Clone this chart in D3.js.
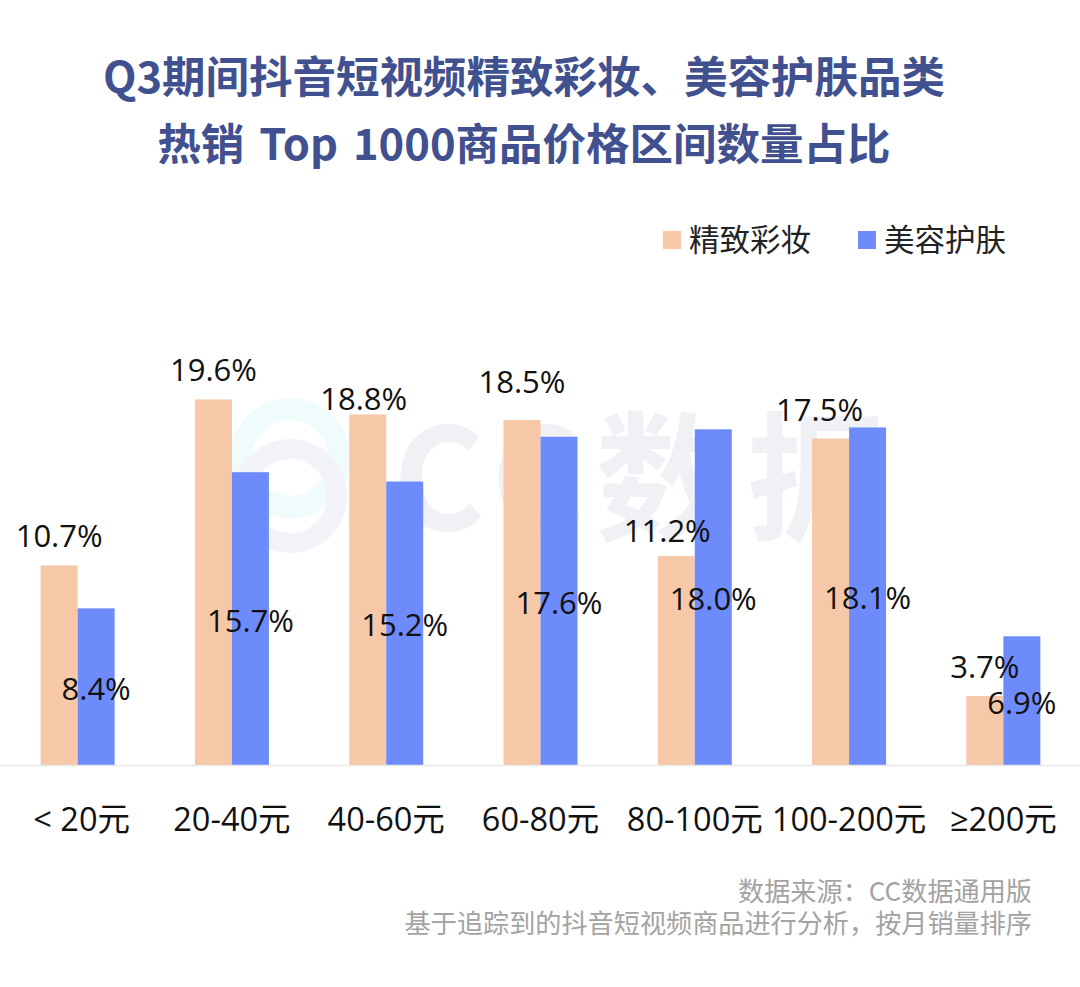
<!DOCTYPE html>
<html>
<head>
<meta charset="utf-8">
<script src="https://cdn.jsdelivr.net/npm/d3@7"></script>
<style>
  html, body { margin: 0; background: #fff; }
  svg { display: block; }
  text { font-family: "Open Sans", "Noto Sans CJK SC", sans-serif; }
  .cjk { font-family: "Noto Sans CJK SC", sans-serif; }
</style>
</head>
<body>
<div id="chart"></div>
<script>
const categories = ['< 20元', '20-40元', '40-60元', '60-80元', '80-100元', '100-200元', '≥200元'];
const seriesNames = ['精致彩妆', '美容护肤'];
const makeupValues = [10.7, 19.6, 18.8, 18.5, 11.2, 17.5, 3.7];
const skincareValues = [8.4, 15.7, 15.2, 17.6, 18.0, 18.1, 6.9];
const titleLines = ['Q3期间抖音短视频精致彩妆、美容护肤品类', '热销 Top 1000商品价格区间数量占比'];
const sourceLines = ['数据来源：CC数据通用版', '基于追踪到的抖音短视频商品进行分析，按月销量排序'];

const WIDTH = 1080;
const HEIGHT = 987;
const BASELINE = 765;
const BAR_W = 37;
const COLORS = ['#f6c8a8', '#6d8bfb'];
const LABEL_SIZE = 31;

// Hand placed makeup labels in the original, offset from the bar's top centre.
const makeupNudge = [[0, 0], [0, 0], [-4, 14], [0, -9], [-9, 4], [-11, 0], [0, 0]];

let svg = d3.select('#chart')
  .append('svg')
  .attr('width', WIDTH)
  .attr('height', HEIGHT);

// Watermark behind the bars.
let mark = svg.append('g').attr('class', 'watermark');
[[290, 458, 49, '#f0fbfb', 22], [290, 496, 47, '#f2f4f9', 20]].forEach(function (c) {
  mark.append('circle')
    .attr('cx', c[0]).attr('cy', c[1]).attr('r', c[2])
    .attr('fill', 'none').attr('stroke', c[3]).attr('stroke-width', c[4]);
});
mark.append('text')
  .attr('class', 'cjk')
  .attr('x', 393).attr('y', 530)
  .style('font-size', '140px')
  .style('font-weight', 700)
  .style('letter-spacing', '12px')
  .attr('fill', '#eff1f5')
  .text('CC数据');

// Title.
svg.append('g').selectAll('text')
  .data(titleLines)
  .enter()
  .append('text')
  .attr('class', 'cjk')
  .attr('x', 524)
  .attr('y', (d, i) => 93 + i * 67)
  .attr('text-anchor', 'middle')
  .style('font-size', '43.5px')
  .style('font-weight', 700)
  .style('word-spacing', '5px')
  .attr('fill', '#41508f')
  .text(d => d);

// Scales.
let x = d3.scaleBand()
  .domain(categories)
  .range([0.5, WIDTH + 0.5]);

let y = d3.scaleLinear()
  .domain([0, 20])
  .range([BASELINE, BASELINE - 20 * 18.65]);

// Bars.
let rows = categories.map(function (c, i) {
  return {category: c, makeup: makeupValues[i], skincare: skincareValues[i], index: i};
});

let center = d => x(d.category) + x.bandwidth() / 2;

svg.append('g').selectAll('rect')
  .data(rows)
  .enter()
  .append('rect')
  .attr('x', d => center(d) - BAR_W)
  .attr('y', d => y(d.makeup))
  .attr('width', BAR_W)
  .attr('height', d => BASELINE - y(d.makeup))
  .attr('fill', COLORS[0]);

svg.append('g').selectAll('rect')
  .data(rows)
  .enter()
  .append('rect')
  .attr('x', d => center(d))
  .attr('y', d => y(d.skincare))
  .attr('width', BAR_W)
  .attr('height', d => BASELINE - y(d.skincare))
  .attr('fill', COLORS[1]);

// Axis line and category labels.
let axis = svg.append('g')
  .attr('transform', 'translate(0,' + BASELINE + ')')
  .call(d3.axisBottom(x).tickSize(0).tickPadding(43));
axis.select('.domain').attr('stroke', '#e8e8e8').attr('stroke-width', 1.5);
axis.selectAll('text')
  .style('font-family', '"Open Sans", "Noto Sans CJK SC", sans-serif')
  .style('font-size', '32.5px')
  .attr('dx', (d, i) => i === 0 ? 4 : 0)
  .attr('fill', '#111');

// Value labels.
svg.append('g').selectAll('text')
  .data(rows)
  .enter()
  .append('text')
  .attr('x', d => center(d) - BAR_W / 2 + makeupNudge[d.index][0])
  .attr('y', d => y(d.makeup) - 18 + makeupNudge[d.index][1])
  .attr('text-anchor', 'middle')
  .style('font-size', LABEL_SIZE + 'px')
  .attr('fill', '#111')
  .text(d => d.makeup.toFixed(1) + '%');

svg.append('g').selectAll('text')
  .data(rows)
  .enter()
  .append('text')
  .attr('x', d => center(d) + BAR_W / 2)
  .attr('y', d => (y(d.skincare) + BASELINE) / 2 + 13)
  .attr('text-anchor', 'middle')
  .style('font-size', LABEL_SIZE + 'px')
  .attr('fill', '#111')
  .text(d => d.skincare.toFixed(1) + '%');

// Legend.
let legend = svg.append('g').selectAll('g')
  .data(seriesNames)
  .enter()
  .append('g')
  .attr('transform', (d, i) => 'translate(' + (663 + i * 195) + ',231)');
legend.append('rect')
  .attr('width', 18).attr('height', 18)
  .attr('fill', (d, i) => COLORS[i]);
legend.append('text')
  .attr('class', 'cjk')
  .attr('x', 26).attr('y', 20)
  .style('font-size', '30.5px')
  .attr('fill', '#222')
  .text(d => d);

// Source note.
svg.append('g').selectAll('text')
  .data(sourceLines)
  .enter()
  .append('text')
  .attr('class', 'cjk')
  .attr('x', 1032)
  .attr('y', (d, i) => 901 + i * 32)
  .attr('text-anchor', 'end')
  .style('font-size', '26.15px')
  .attr('fill', '#a3a3a3')
  .text(d => d);
</script>
</body>
</html>
